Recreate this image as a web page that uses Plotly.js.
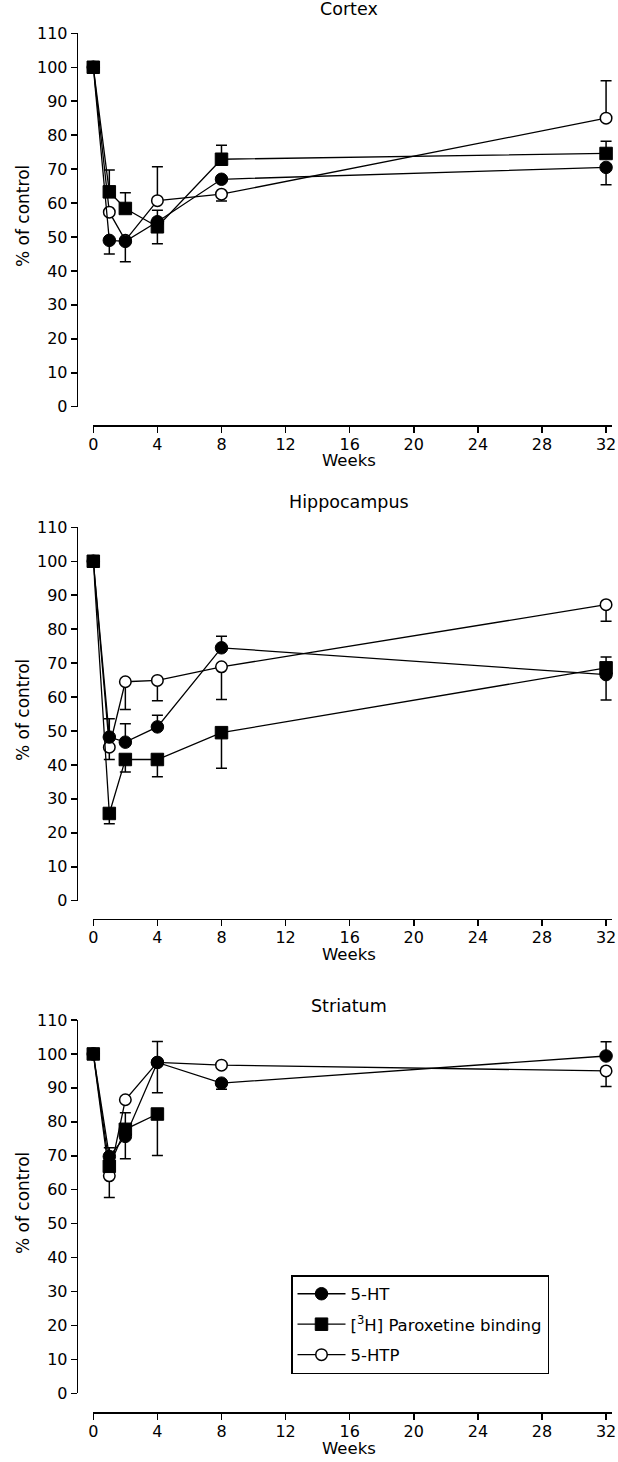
<!DOCTYPE html>
<html>
<head>
<meta charset="utf-8">
<script src="https://cdn.plot.ly/plotly-3.0.1.min.js"></script>
<style>html,body{margin:0;padding:0;background:#fff;}#chart{width:618px;height:1462px;}</style>
</head>
<body>
<div id="chart"></div>
<script>
// ---------- DATA ----------
const weeks = [0, 1, 2, 4, 8, 32];
const weeksStriatumParox = [0, 1, 2, 4];
const xTickVals = [0, 4, 8, 12, 16, 20, 24, 28, 32];
const panelTitles = ["Cortex", "Hippocampus", "Striatum"];
const seriesNames = ["5-HT", "[<sup>3</sup>H] Paroxetine binding", "5-HTP"];

// Cortex
const cortexHT = [100, 49, 48.7, 54.5, 67, 70.5];
const cortexHTUp = [0, 0, 0, 0, 0, 0];
const cortexHTDown = [0, 4, 6, 0, 0, 5.1];
const cortexPar = [100, 63.3, 58.4, 53, 72.9, 74.6];
const cortexParUp = [0, 6.4, 4.6, 4.9, 4.1, 3.6];
const cortexParDown = [0, 0, 0, 5, 0, 0];
const cortexHTP = [100, 57.3, 49, 60.7, 62.6, 85];
const cortexHTPUp = [0, 0, 0, 10, 0, 11];
const cortexHTPDown = [0, 0, 0, 0, 2, 0];

// Hippocampus
const hippoHT = [100, 48.2, 46.7, 51.2, 74.5, 66.6];
const hippoHTUp = [0, 5.4, 5.4, 3.4, 3.4, 0];
const hippoHTDown = [0, 0, 0, 0, 0, 7.5];
const hippoPar = [100, 25.7, 41.6, 41.6, 49.5, 68.6];
const hippoParUp = [0, 0, 0, 0, 0, 3.2];
const hippoParDown = [0, 3, 3.7, 5.1, 10.5, 0];
const hippoHTP = [100, 45.2, 64.5, 64.9, 68.9, 87.2];
const hippoHTPUp = [0, 0, 0, 0, 0, 0];
const hippoHTPDown = [0, 3.6, 8.2, 6, 9.6, 4.9];

// Striatum
const striHT = [100, 69.8, 75.7, 97.5, 91.4, 99.4];
const striHTUp = [0, 2.6, 0, 6.2, 0, 4.2];
const striHTDown = [0, 0, 6.6, 0, 1.8, 0];
const striPar = [100, 66.9, 77.8, 82.3];
const striParUp = [0, 0, 4.9, 0];
const striParDown = [0, 0, 0, 12.2];
const striHTP = [100, 64.1, 86.5, 97.5, 96.7, 95];
const striHTPUp = [0, 0, 0, 0, 0, 0];
const striHTPDown = [0, 6.4, 0, 8.9, 0, 4.6];

// ---------- LAYOUT HELPERS ----------
const W = 618, H = 1462;
const FONT = "DejaVu Sans, Arial, sans-serif";
const py = v => 1 - v / H;
const pxX = v => v / W;

const panels = [
  {top: 33.3, bottom: 406.7, axisY: 425, titleY: 9, weeksY: 461, ytitleY: 216},
  {top: 527.3, bottom: 900.7, axisY: 918.5, titleY: 502, weeksY: 954.5, ytitleY: 710},
  {top: 1020, bottom: 1393.4, axisY: 1412, titleY: 1006, weeksY: 1448, ytitleY: 1203}
];

const panelData = [
  [
    {x: weeks, y: cortexHT, up: cortexHTUp, down: cortexHTDown},
    {x: weeks, y: cortexPar, up: cortexParUp, down: cortexParDown},
    {x: weeks, y: cortexHTP, up: cortexHTPUp, down: cortexHTPDown}
  ],
  [
    {x: weeks, y: hippoHT, up: hippoHTUp, down: hippoHTDown},
    {x: weeks, y: hippoPar, up: hippoParUp, down: hippoParDown},
    {x: weeks, y: hippoHTP, up: hippoHTPUp, down: hippoHTPDown}
  ],
  [
    {x: weeks, y: striHT, up: striHTUp, down: striHTDown},
    {x: weeksStriatumParox, y: striPar, up: striParUp, down: striParDown},
    {x: weeks, y: striHTP, up: striHTPUp, down: striHTPDown}
  ]
];

const markerStyles = [
  {symbol: "circle", size: 12.5, color: "#000", line: {color: "#000", width: 1}},
  {symbol: "square", size: 12.5, color: "#000", line: {color: "#000", width: 1}},
  {symbol: "circle", size: 11.5, color: "#fff", line: {color: "#000", width: 1.5}}
];

const errTraces = [];
const mainTraces = [];
// draw order: 5-HTP (2), paroxetine (1), 5-HT (0) so filled markers are on top
const drawOrder = [2, 1, 0];

panelData.forEach((series, p) => {
  const xa = p === 0 ? "x" : "x" + (p + 1);
  const ya = p === 0 ? "y" : "y" + (p + 1);
  drawOrder.forEach(s => {
    const d = series[s];
    errTraces.push({
      type: "scatter", mode: "lines", x: d.x, y: d.y, xaxis: xa, yaxis: ya,
      line: {width: 0, color: "rgba(0,0,0,0)"}, showlegend: false, hoverinfo: "skip",
      cliponaxis: false,
      error_y: {type: "data", symmetric: false, array: d.up, arrayminus: d.down,
                color: "#000", thickness: 1.5, width: 5.5}
    });
    mainTraces.push({
      type: "scatter", mode: "lines+markers", x: d.x, y: d.y, xaxis: xa, yaxis: ya,
      name: seriesNames[s], legendgroup: "g" + s, legendrank: s + 1,
      showlegend: p === 2, cliponaxis: false,
      line: {color: "#000", width: 1.3},
      marker: markerStyles[s]
    });
  });
});

const layout = {
  width: W, height: H,
  margin: {l: 0, r: 0, t: 0, b: 0},
  paper_bgcolor: "#fff", plot_bgcolor: "rgba(0,0,0,0)",
  font: {family: FONT, size: 16, color: "#000"},
  showlegend: true,
  legend: {
    x: pxX(291), y: py(1275), xanchor: "left", yanchor: "top",
    bgcolor: "#fff", bordercolor: "#000", borderwidth: 1.5,
    font: {family: FONT, size: 16.5, color: "#000"},
    tracegroupgap: 6, itemwidth: 48, traceorder: "grouped"
  },
  annotations: [],
  hovermode: false
};

panels.forEach((pn, p) => {
  const sfx = p === 0 ? "" : String(p + 1);
  layout["xaxis" + sfx] = {
    domain: [pxX(93.3), pxX(612)], range: [0, 32.37],
    anchor: "free", position: py(pn.axisY),
    tickmode: "array", tickvals: xTickVals, ticktext: xTickVals.map(String),
    ticks: "outside", ticklen: 6, tickwidth: 1.5, tickcolor: "#000",
    ticklabelstandoff: -2,
    showline: true, linewidth: 1.5, linecolor: "#000",
    showgrid: false, zeroline: false, automargin: false, fixedrange: true,
    tickfont: {family: FONT, size: 16, color: "#000"}
  };
  layout["yaxis" + sfx] = {
    domain: [py(pn.bottom), py(pn.top)], range: [0, 110],
    anchor: "free", position: pxX(76.7),
    tickmode: "linear", tick0: 0, dtick: 10,
    ticks: "outside", ticklen: 6, tickwidth: 1.5, tickcolor: "#000",
    showline: true, linewidth: 1.5, linecolor: "#000",
    showgrid: false, zeroline: false, automargin: false, fixedrange: true,
    tickfont: {family: FONT, size: 16, color: "#000"}
  };
  layout.annotations.push(
    {text: panelTitles[p], xref: "paper", yref: "paper", x: pxX(349), y: py(pn.titleY),
     xanchor: "center", yanchor: "middle", showarrow: false, font: {family: FONT, size: 17.5, color: "#000"}},
    {text: "Weeks", xref: "paper", yref: "paper", x: pxX(349), y: py(pn.weeksY),
     xanchor: "center", yanchor: "middle", showarrow: false, font: {family: FONT, size: 16.5, color: "#000"}},
    {text: "% of control", xref: "paper", yref: "paper", x: pxX(23), y: py(pn.ytitleY),
     xanchor: "center", yanchor: "middle", textangle: -90, showarrow: false, font: {family: FONT, size: 17, color: "#000"}}
  );
});

Plotly.newPlot("chart", errTraces.concat(mainTraces), layout, {staticPlot: true, displayModeBar: false});
</script>
</body>
</html>
